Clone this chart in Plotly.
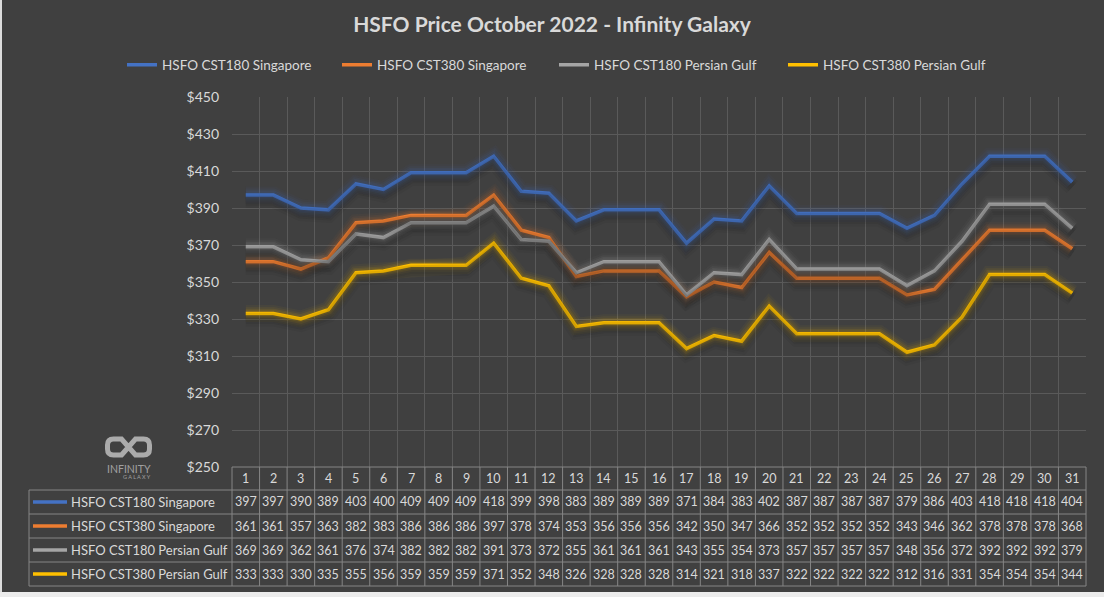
import plotly.graph_objects as go

# ---------------- data ----------------
days = list(range(1, 32))
series_names = [
    "HSFO CST180 Singapore",
    "HSFO CST380 Singapore",
    "HSFO CST180 Persian Gulf",
    "HSFO CST380 Persian Gulf",
]
sg180 = [397, 397, 390, 389, 403, 400, 409, 409, 409, 418, 399, 398, 383, 389, 389, 389,
         371, 384, 383, 402, 387, 387, 387, 387, 379, 386, 403, 418, 418, 418, 404]
sg380 = [361, 361, 357, 363, 382, 383, 386, 386, 386, 397, 378, 374, 353, 356, 356, 356,
         342, 350, 347, 366, 352, 352, 352, 352, 343, 346, 362, 378, 378, 378, 368]
pg180 = [369, 369, 362, 361, 376, 374, 382, 382, 382, 391, 373, 372, 355, 361, 361, 361,
         343, 355, 354, 373, 357, 357, 357, 357, 348, 356, 372, 392, 392, 392, 379]
pg380 = [333, 333, 330, 335, 355, 356, 359, 359, 359, 371, 352, 348, 326, 328, 328, 328,
         314, 321, 318, 337, 322, 322, 322, 322, 312, 316, 331, 354, 354, 354, 344]
y_ticks = [250, 270, 290, 310, 330, 350, 370, 390, 410, 430, 450]

all_series = [sg180, sg380, pg180, pg380]

# ---------------- style ----------------
colors = ["#4472C4", "#ED7D31", "#A5A5A5", "#FFC000"]
glow = ["68,114,196", "237,125,49", "165,165,165", "255,192,0"]
BG = "#404040"
GRID = "#5a5a5a"
TBL = "#858585"
TXT = "#d9d9d9"
FONT = "Lato"

W, H = 1104, 597
PL, PR, PT, PB = 232, 1086, 97, 467  # plot area in pixels
Y0, Y1 = 250, 450
SHADOW_PX = 5
shadow_shift = SHADOW_PX * (Y1 - Y0) / (PB - PT)


def px_x(px):
    return (px - PL) / (PR - PL)


def px_y(py):
    return (PB - py) / (PB - PT)


fig = go.Figure()

# soft shadow (on an overlaid axis shifted a few pixels)
for vals in all_series:
    for wdt, a in [(16, 0.05), (11, 0.07), (7, 0.08)]:
        fig.add_trace(go.Scatter(x=days, y=vals, mode="lines", yaxis="y2",
                                 line=dict(color=f"rgba(20,20,20,{a})", width=wdt),
                                 hoverinfo="skip", showlegend=False))

# glow layers
for vals, g in zip(all_series, glow):
    for wdt, a in [(17, 0.04), (13, 0.06), (9.5, 0.09), (6.5, 0.12)]:
        fig.add_trace(go.Scatter(x=days, y=vals, mode="lines",
                                 line=dict(color=f"rgba({g},{a})", width=wdt),
                                 hoverinfo="skip", showlegend=False))

legend_ids = ["legend", "legend2", "legend3", "legend4"]
for name, vals, c, lg in zip(series_names, all_series, colors, legend_ids):
    fig.add_trace(go.Scatter(x=days, y=vals, mode="lines", name=name,
                             line=dict(color=c, width=3.5), legend=lg))

# legends (one per item, positioned like the reference)
legend_line_px = [128, 343, 560, 789]
leg_common = dict(orientation="h", yanchor="middle", xanchor="left",
                  y=px_y(65), bgcolor="rgba(0,0,0,0)",
                  font=dict(family=FONT, size=13.5, color=TXT))
legends = {}
for lg, lx in zip(legend_ids, legend_line_px):
    legends[lg] = dict(x=px_x(lx - 6), **leg_common)

shapes = []
annotations = []

# ---- data table ----
row_edges_px = [467, 490, 514, 538, 562, 586]
n = len(days)
col_x = [k / n for k in range(n + 1)]
tbl_left = px_x(29)
shapes.append(dict(type="line", xref="paper", yref="paper", x0=0, x1=1,
                   y0=px_y(row_edges_px[0]), y1=px_y(row_edges_px[0]),
                   line=dict(color=TBL, width=1)))
for py in row_edges_px[1:]:
    shapes.append(dict(type="line", xref="paper", yref="paper", x0=tbl_left, x1=1,
                       y0=px_y(py), y1=px_y(py), line=dict(color=TBL, width=1)))
for cx in col_x:
    shapes.append(dict(type="line", xref="paper", yref="paper", x0=cx, x1=cx,
                       y0=px_y(row_edges_px[0]), y1=px_y(row_edges_px[-1]),
                       line=dict(color=TBL, width=1)))
shapes.append(dict(type="line", xref="paper", yref="paper", x0=tbl_left, x1=tbl_left,
                   y0=px_y(row_edges_px[1]), y1=px_y(row_edges_px[-1]),
                   line=dict(color=TBL, width=1)))

row_centers = [(row_edges_px[i] + row_edges_px[i + 1]) / 2 for i in range(len(row_edges_px) - 1)]
tfont = dict(family=FONT, size=12.5, color=TXT)
lfont = dict(family=FONT, size=13, color=TXT)
for d in days:
    annotations.append(dict(x=d, y=px_y(row_centers[0]), xref="x", yref="paper",
                            text=str(d), showarrow=False, font=tfont,
                            xanchor="center", yanchor="middle"))
for r, (name, vals, c) in enumerate(zip(series_names, all_series, colors)):
    yc = px_y(row_centers[r + 1])
    shapes.append(dict(type="line", xref="paper", yref="paper",
                       x0=px_x(33), x1=px_x(67), y0=yc, y1=yc,
                       line=dict(color=c, width=3.5)))
    annotations.append(dict(x=px_x(69), y=yc, xref="paper", yref="paper",
                            text=name, showarrow=False, font=lfont,
                            xanchor="left", yanchor="middle"))
    for d, v in zip(days, vals):
        annotations.append(dict(x=d, y=yc, xref="x", yref="paper", text=str(v),
                                showarrow=False, font=tfont,
                                xanchor="center", yanchor="middle"))

# ---- logo ----
logo_path = ("M -7,-8 L 7,8 L 15,8 Q 21,8 21,2 L 21,-2 Q 21,-8 15,-8 L 7,-8 "
             "L -7,8 L -15,8 Q -21,8 -21,2 L -21,-2 Q -21,-8 -15,-8 Z")
shapes.append(dict(type="path", path=logo_path, xref="paper", yref="paper",
                   xsizemode="pixel", ysizemode="pixel",
                   xanchor=px_x(128.5), yanchor=px_y(447),
                   line=dict(color="#ababab", width=5)))
annotations.append(dict(x=px_x(129), y=px_y(469), xref="paper", yref="paper",
                        text="INFINITY", showarrow=False,
                        font=dict(family=FONT, size=10.5, color="#a0a0a0"),
                        xanchor="center", yanchor="middle"))
annotations.append(dict(x=px_x(137), y=px_y(477), xref="paper", yref="paper",
                        text="G A L A X Y", showarrow=False,
                        font=dict(family=FONT, size=5.5, color="#a0a0a0"),
                        xanchor="center", yanchor="middle"))

# ---- sheet edges (outside the chart area) ----
shapes.append(dict(type="rect", xref="paper", yref="paper", layer="above",
                   x0=px_x(0), x1=px_x(2), y0=px_y(597), y1=px_y(0),
                   fillcolor="#dcdcdc", line=dict(width=0)))
shapes.append(dict(type="rect", xref="paper", yref="paper", layer="above",
                   x0=px_x(0), x1=px_x(1104), y0=px_y(597), y1=px_y(592),
                   fillcolor="#ececec", line=dict(width=0)))

fig.update_layout(
    width=W, height=H,
    margin=dict(l=PL, r=W - PR, t=PT, b=H - PB, pad=0),
    paper_bgcolor=BG, plot_bgcolor=BG,
    title=dict(text="<b>HSFO Price October 2022 - Infinity Galaxy</b>",
               x=0.5, xanchor="center", xref="container", y=1 - 25 / H,
               yanchor="middle",
               font=dict(family=FONT, size=21, color=TXT)),
    xaxis=dict(range=[0.5, 31.5], tickvals=[d + 0.5 for d in [0] + days],
               showticklabels=False, showgrid=True, gridcolor=GRID, gridwidth=1,
               zeroline=False, showline=False, ticks=""),
    yaxis=dict(range=[Y0, Y1], tickvals=y_ticks,
               ticktext=["$" + str(v) for v in y_ticks],
               showgrid=True, gridcolor=GRID, gridwidth=1, zeroline=False,
               showline=False, ticks="", ticklabelstandoff=12,
               tickfont=dict(family=FONT, size=14, color=TXT)),
    yaxis2=dict(range=[Y0 + shadow_shift, Y1 + shadow_shift], overlaying="y",
                visible=False, showgrid=False),
    shapes=shapes,
    annotations=annotations,
    **legends,
)

fig.write_html("out.html")
